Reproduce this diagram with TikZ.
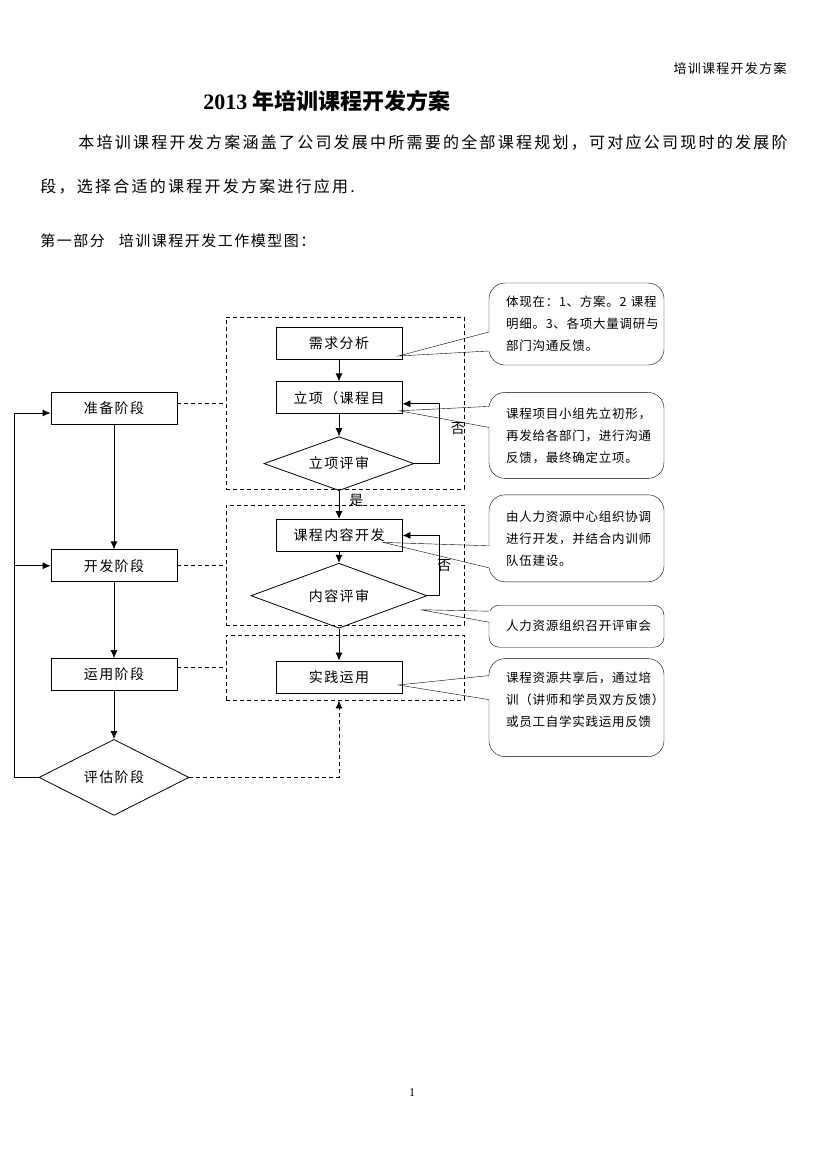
\documentclass[tikz,border=0pt]{standalone}
\usepackage{fontspec}
\setmainfont{Liberation Serif}
\newfontfamily\cjk[LetterSpace=10]{Noto Sans CJK SC}
\newfontfamily\cjknote[LetterSpace=6]{Noto Sans CJK SC}
\newfontfamily\cjkbody[LetterSpace=14]{Noto Sans CJK SC}
\newfontfamily\cjktitle{Noto Sans CJK SC}
\usetikzlibrary{positioning,shapes.geometric,arrows.meta}
\pgfdeclarelayer{background}
\pgfsetlayers{background,main}

\begin{document}
\begin{tikzpicture}[x=1pt, y=-1pt, line width=0.8pt,
    stage/.style={draw, rectangle, minimum width=126pt, minimum height=32pt, inner sep=0pt,
      font=\cjk\fontsize{14}{16}\selectfont},
    review/.style={draw, diamond, aspect=2.5, inner sep=0pt,
      font=\cjk\fontsize{14}{16}\selectfont},
    group/.style={draw, rectangle, dash pattern=on 4pt off 3pt, inner sep=0pt},
    note/.style={draw, fill=white, rounded corners=16pt, text width=141pt, inner xsep=17pt,
      align=left, font=\cjknote\fontsize{12.5}{22}\selectfont},
    tag/.style={inner sep=1pt, font=\cjk\fontsize{14}{16}\selectfont},
    page/.style={inner sep=0pt},
    arr/.style={-{Latex[length=8pt,width=7pt]}}]
  \useasboundingbox (0,0) rectangle (826,1169);

  % page text
  \node[page, anchor=east, font=\cjk\fontsize{13}{15}\selectfont] (header) at (787,69) {培训课程开发方案};
  \node[page, anchor=west, font=\bfseries\fontsize{22}{26}\selectfont] (title) at (203,101)
    {2013 {\cjktitle 年培训课程开发方案}};
  \node[page, anchor=west, font=\cjkbody\fontsize{16}{18}\selectfont] (intro1) at (78,143)
    {本培训课程开发方案涵盖了公司发展中所需要的全部课程规划，可对应公司现时的发展阶};
  \node[page, anchor=west, font=\cjkbody\fontsize{16}{18}\selectfont] (intro2) at (40,187)
    {段，选择合适的课程开发方案进行应用.};
  \node[page, anchor=west, font=\cjk\fontsize{15}{17}\selectfont] (part) at (40,241)
    {第一部分\hspace{14pt}培训课程开发工作模型图：};
  \node[page, font=\fontsize{12}{14}\selectfont] (pagenum) at (412,1093) {1};

  % stages
  \node[stage] (prep) at (114,408) {准备阶段};
  \node[stage, below=125pt of prep] (dev) {开发阶段};
  \node[stage, below=76pt of dev] (use) {运用阶段};
  \node[review, minimum width=150pt, minimum height=76pt, below=48pt of use] (eval) {评估阶段};
  \coordinate[left=24pt of eval.west] (back);

  % work flow
  \node[stage] (need) at (339,343) {需求分析};
  \node[stage, below=22pt of need] (proj) {立项（课程目};
  \node[review, minimum width=150pt, minimum height=54pt, below=22pt of proj] (projrev) {立项评审};
  \node[stage, below=28pt of projrev] (content) {课程内容开发};
  \node[review, minimum width=176pt, minimum height=65pt, below=11pt of content] (contentrev) {内容评审};
  \node[stage, below=32pt of contentrev] (practice) {实践运用};

  \node[group, minimum width=238pt, minimum height=172pt] (g1) at (345,403) {};
  \node[group, minimum width=238pt, minimum height=120pt] (g2) at (345,565) {};
  \node[group, minimum width=238pt, minimum height=65pt] (g3) at (345,667.5) {};

  \draw[arr] (prep) -- (dev);
  \draw[arr] (dev) -- (use);
  \draw[arr] (use) -- (eval);
  \draw[arr] (eval.west) -- (back) |- ([yshift=-5pt]prep.west);
  \draw[arr] (back |- dev.west) -- (dev.west);

  \draw[group] (prep.east |- g1.west) -- (g1.west);
  \draw[group] (dev.east |- g2.west) -- (g2.west);
  \draw[group] (use.east |- g3.west) -- (g3.west);
  \draw[group, arr] (eval.east) -| (practice |- g3.south);

  \draw[arr] (need) -- (proj);
  \draw[arr] (proj) -- (projrev);
  \draw[arr] (projrev.east) -- ++(25,0) |- node[tag, pos=0.29, right=10pt] {否} ([yshift=-6pt]proj.east);
  \draw[arr] (projrev) -- node[tag, pos=0.35, right=9pt] {是} (content);
  \draw[arr] (content) -- (contentrev);
  \draw[arr] (contentrev.east) -- ++(12,0) |- node[tag, pos=0.25, xshift=5pt] {否} (content.east);
  \draw[arr] (contentrev) -- (practice);

  % callouts
  \begin{pgfonlayer}{background}
    \fill[white] (0,0) rectangle (826,1169);
    \node[note, minimum height=82pt] (n1) at (576.5,324)
      {体现在：1、方案。2~课程\\明细。3、各项大量调研与\\部门沟通反馈。};
    \node[note, minimum height=86pt, below=27pt of n1] (n2)
      {课程项目小组先立初形，\\再发给各部门，进行沟通\\反馈，最终确定立项。};
    \node[note, minimum height=87pt, below=16pt of n2] (n3)
      {由人力资源中心组织协调\\进行开发，并结合内训师\\队伍建设。};
    \node[note, rounded corners=10pt, minimum height=42pt, below=23pt of n3] (n4)
      {人力资源组织召开评审会};
    \node[note, minimum height=98pt, below=11pt of n4] (n5)
      {课程资源共享后，通过培\\训（讲师和学员双方反馈）\\或员工自学实践运用反馈\\[-6pt]\mbox{}};

    \fill[white] ([yshift=-8pt]n1.west) -- ([xshift=-4pt,yshift=-13pt]need.east) -- ([yshift=-27pt]n1.west)
      -- ([xshift=2pt,yshift=-27pt]n1.west) -- ([xshift=2pt,yshift=-8pt]n1.west) -- cycle;
    \draw ([yshift=-8pt]n1.west) -- ([xshift=-4pt,yshift=-13pt]need.east) -- ([yshift=-27pt]n1.west);
    \fill[white] ([yshift=29pt]n2.west) -- ([xshift=-3pt,yshift=-13pt]proj.east) -- ([yshift=8pt]n2.west)
      -- ([xshift=2pt,yshift=8pt]n2.west) -- ([xshift=2pt,yshift=29pt]n2.west) -- cycle;
    \draw ([yshift=29pt]n2.west) -- ([xshift=-3pt,yshift=-13pt]proj.east) -- ([yshift=8pt]n2.west);
    \fill[white] ([yshift=-7.5pt]n3.west) -- ([xshift=-19pt,yshift=-7pt]content.east) -- ([yshift=-29.5pt]n3.west)
      -- ([xshift=2pt,yshift=-29.5pt]n3.west) -- ([xshift=2pt,yshift=-7.5pt]n3.west) -- cycle;
    \draw ([yshift=-7.5pt]n3.west) -- ([xshift=-19pt,yshift=-7pt]content.east) -- ([yshift=-29.5pt]n3.west);
    \fill[white] ([yshift=15pt]n4.west) -- ([xshift=-7pt,yshift=-14pt]contentrev.east) -- ([yshift=4pt]n4.west)
      -- ([xshift=2pt,yshift=4pt]n4.west) -- ([xshift=2pt,yshift=15pt]n4.west) -- cycle;
    \draw ([yshift=15pt]n4.west) -- ([xshift=-7pt,yshift=-14pt]contentrev.east) -- ([yshift=4pt]n4.west);
    \fill[white] ([yshift=32pt]n5.west) -- ([xshift=-4pt,yshift=-8pt]practice.east) -- ([yshift=8pt]n5.west)
      -- ([xshift=2pt,yshift=8pt]n5.west) -- ([xshift=2pt,yshift=32pt]n5.west) -- cycle;
    \draw ([yshift=32pt]n5.west) -- ([xshift=-4pt,yshift=-8pt]practice.east) -- ([yshift=8pt]n5.west);
  \end{pgfonlayer}
\end{tikzpicture}
\end{document}
